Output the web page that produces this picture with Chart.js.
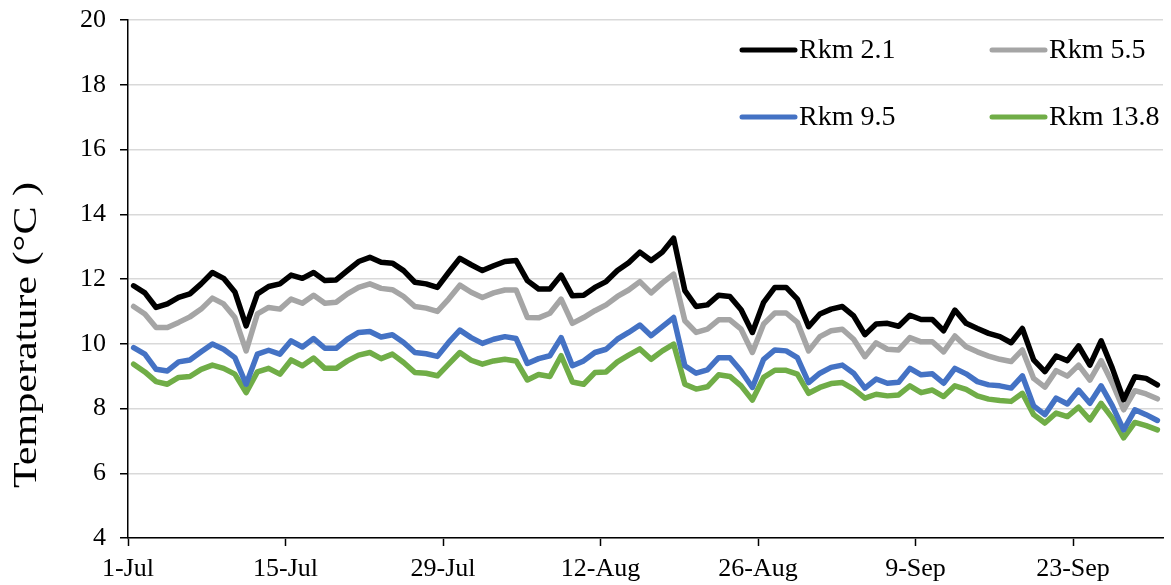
<!DOCTYPE html>
<html>
<head>
<meta charset="utf-8">
<script src="https://cdn.jsdelivr.net/npm/chart.js@4.4.1/dist/chart.umd.min.js"></script>
<style>
  html, body { margin: 0; padding: 0; background: #fff; }
  #wrap { width: 1171px; height: 585px; }
</style>
</head>
<body>
<div id="wrap"><canvas id="tempChart" width="1171" height="585"></canvas></div>
<script>
// daily mean water temperature, 1 Jul - 30 Sep (day 0 = 1-Jul)
const tickDays = [0, 14, 28, 42, 56, 70, 84];
const tickLabels = ['1-Jul', '15-Jul', '29-Jul', '12-Aug', '26-Aug', '9-Sep', '23-Sep'];
const seriesNames = ['Rkm 2.1', 'Rkm 5.5', 'Rkm 9.5', 'Rkm 13.8'];
const seriesColors = ['#000000', '#a5a5a5', '#4472c4', '#70ad47'];

const rkm21 = [
  11.79, 11.57, 11.12, 11.23, 11.43, 11.54, 11.85, 12.20, 12.02, 11.60,
  10.55, 11.54, 11.77, 11.85, 12.12, 12.02, 12.20, 11.95, 11.97, 12.26,
  12.54, 12.67, 12.52, 12.49, 12.26, 11.90, 11.85, 11.74, 12.20, 12.64,
  12.44, 12.26, 12.41, 12.54, 12.57, 11.95, 11.69, 11.69, 12.12, 11.48,
  11.50, 11.74, 11.92, 12.26, 12.50, 12.83, 12.57, 12.83, 13.26, 11.64,
  11.15, 11.20, 11.50, 11.46, 11.05, 10.35, 11.28, 11.74, 11.74, 11.38,
  10.53, 10.92, 11.07, 11.15, 10.86, 10.28, 10.61, 10.63, 10.54, 10.88,
  10.75, 10.75, 10.40, 11.04, 10.63, 10.47, 10.32, 10.22, 10.03, 10.47,
  9.50, 9.14, 9.62, 9.48, 9.93, 9.34, 10.09, 9.24, 8.27, 8.98,
  8.93, 8.73
];
const rkm55 = [
  11.15, 10.92, 10.50, 10.50, 10.66, 10.83, 11.07, 11.41, 11.23, 10.81,
  9.78, 10.92, 11.12, 11.07, 11.38, 11.25, 11.50, 11.25, 11.28, 11.54,
  11.74, 11.85, 11.71, 11.67, 11.46, 11.15, 11.10, 11.00, 11.38, 11.81,
  11.59, 11.43, 11.57, 11.66, 11.66, 10.81, 10.80, 10.94, 11.38, 10.63,
  10.81, 11.02, 11.20, 11.46, 11.66, 11.92, 11.57, 11.88, 12.15, 10.71,
  10.35, 10.45, 10.74, 10.74, 10.45, 9.73, 10.61, 10.95, 10.95, 10.66,
  9.78, 10.22, 10.40, 10.45, 10.14, 9.60, 10.03, 9.83, 9.81, 10.19,
  10.06, 10.06, 9.75, 10.24, 9.91, 9.75, 9.62, 9.52, 9.45, 9.81,
  8.93, 8.66, 9.17, 9.00, 9.34, 8.88, 9.48, 8.78, 7.96, 8.55,
  8.45, 8.30
];
const rkm95 = [
  9.88, 9.68, 9.21, 9.16, 9.44, 9.50, 9.75, 9.99, 9.83, 9.57,
  8.75, 9.68, 9.80, 9.68, 10.09, 9.90, 10.16, 9.86, 9.86, 10.14,
  10.35, 10.38, 10.21, 10.28, 10.04, 9.73, 9.69, 9.61, 10.04, 10.42,
  10.19, 10.01, 10.14, 10.22, 10.16, 9.39, 9.54, 9.63, 10.19, 9.32,
  9.47, 9.73, 9.83, 10.14, 10.35, 10.58, 10.25, 10.53, 10.81, 9.32,
  9.09, 9.19, 9.57, 9.57, 9.16, 8.65, 9.52, 9.81, 9.78, 9.57,
  8.80, 9.09, 9.27, 9.34, 9.09, 8.63, 8.91, 8.78, 8.81, 9.24,
  9.04, 9.07, 8.78, 9.24, 9.07, 8.83, 8.73, 8.70, 8.63, 9.01,
  8.08, 7.81, 8.32, 8.14, 8.57, 8.16, 8.70, 8.08, 7.34, 7.96,
  7.81, 7.63
];
const rkm138 = [
  9.37, 9.13, 8.83, 8.75, 8.96, 8.99, 9.21, 9.34, 9.24, 9.06,
  8.49, 9.13, 9.24, 9.06, 9.50, 9.32, 9.56, 9.24, 9.24, 9.47,
  9.65, 9.73, 9.54, 9.68, 9.42, 9.11, 9.09, 9.01, 9.37, 9.73,
  9.49, 9.37, 9.47, 9.52, 9.47, 8.88, 9.05, 8.99, 9.63, 8.82,
  8.75, 9.11, 9.13, 9.44, 9.65, 9.84, 9.52, 9.78, 9.99, 8.75,
  8.60, 8.67, 9.04, 8.99, 8.70, 8.26, 8.96, 9.18, 9.18, 9.06,
  8.47, 8.65, 8.77, 8.80, 8.60, 8.32, 8.44, 8.39, 8.42, 8.70,
  8.49, 8.57, 8.37, 8.70, 8.59, 8.39, 8.29, 8.25, 8.22, 8.47,
  7.81, 7.55, 7.86, 7.75, 8.04, 7.65, 8.16, 7.70, 7.09, 7.57,
  7.47, 7.34
];

const FONT = "'Liberation Serif', 'Times New Roman', serif";
const allSeries = [rkm21, rkm55, rkm95, rkm138];

// each daily value sits in the middle of its day on the date axis
function toPoints(values) {
  return values.map((v, i) => ({ x: i + 0.5, y: v }));
}

// rotated y axis title, spread to its full length along the axis
const yTitlePlugin = {
  id: 'yTitle',
  afterDraw(chart) {
    const ctx = chart.ctx;
    const text = 'Temperature (°C )';
    ctx.save();
    ctx.font = '33px ' + FONT;
    const w = ctx.measureText(text).width;
    ctx.translate(27, 335);
    ctx.rotate(-Math.PI / 2);
    ctx.scale(306 / w, 1);
    ctx.fillStyle = '#000';
    ctx.textAlign = 'center';
    ctx.textBaseline = 'middle';
    ctx.fillText(text, 0, 0);
    ctx.restore();
  }
};

// two-column legend inside the top right of the plot
const legendPlugin = {
  id: 'insideLegend',
  afterDraw(chart) {
    const ctx = chart.ctx;
    const cols = [740, 990];
    const rows = [50, 117];
    ctx.save();
    ctx.font = '28px ' + FONT;
    ctx.textBaseline = 'middle';
    ctx.textAlign = 'left';
    chart.data.datasets.forEach((ds, i) => {
      const x = cols[i % 2];
      const y = rows[Math.floor(i / 2)];
      ctx.strokeStyle = ds.borderColor;
      ctx.lineWidth = 5;
      ctx.lineCap = 'round';
      ctx.beginPath();
      ctx.moveTo(x + 2, y);
      ctx.lineTo(x + 55, y);
      ctx.stroke();
      ctx.fillStyle = '#000';
      ctx.fillText(ds.label, x + 59, y + 1);
    });
    ctx.restore();
  }
};

const ctx = document.getElementById('tempChart').getContext('2d');
new Chart(ctx, {
  type: 'line',
  data: {
    datasets: allSeries.map((values, i) => ({
      label: seriesNames[i],
      data: toPoints(values),
      borderColor: seriesColors[i],
      backgroundColor: seriesColors[i],
      borderWidth: 5.5,
      pointRadius: 0,
      tension: 0,
      borderJoinStyle: 'round',
      borderCapStyle: 'round',
      fill: false
    }))
  },
  options: {
    responsive: false,
    animation: false,
    layout: { padding: { left: 0, right: 8, top: 20, bottom: 0 } },
    plugins: {
      legend: { display: false },
      tooltip: { enabled: false }
    },
    scales: {
      x: {
        type: 'linear',
        min: 0,
        max: 92,
        afterBuildTicks: (scale) => {
          scale.ticks = tickDays.map(v => ({ value: v }));
        },
        afterFit: (scale) => { scale.height = 47; },
        grid: { drawOnChartArea: false, drawTicks: true, tickLength: 8, tickColor: '#000', tickWidth: 1.5 },
        border: { color: '#000', width: 1.5 },
        ticks: {
          autoSkip: false,
          maxRotation: 0,
          padding: 8,
          color: '#000',
          font: { family: FONT, size: 26 },
          callback: (value) => tickLabels[tickDays.indexOf(value)]
        }
      },
      y: {
        min: 4,
        max: 20,
        afterFit: (scale) => {
          scale.width = 128;
          // the outer padding already leaves room for the end labels
          scale.paddingTop = 0;
          scale.paddingBottom = 0;
        },
        grid: { color: '#d9d9d9', lineWidth: 1.5, tickLength: 8, tickColor: '#000', tickWidth: 1.5 },
        border: { color: '#000', width: 1.5 },
        ticks: {
          stepSize: 2,
          padding: 14,
          color: '#000',
          font: { family: FONT, size: 26 }
        }
      }
    }
  },
  plugins: [yTitlePlugin, legendPlugin]
});
</script>
</body>
</html>
